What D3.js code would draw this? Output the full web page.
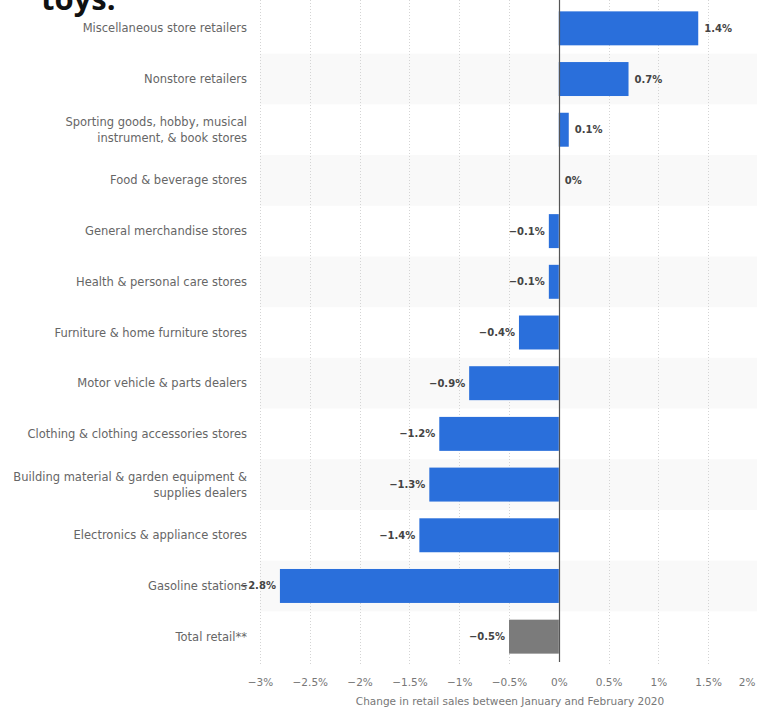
<!DOCTYPE html>
<html lang="en">
<head>
  <meta charset="UTF-8">
  <title>Change in retail sales, January to February 2020</title>
  <script src="https://d3js.org/d3.v7.min.js"></script>
  <style>
    body {
      margin: 0;
      padding: 0;
      background: #fff;
      font-family: 'DejaVu Sans', sans-serif;
    }
    .cat-label {
      font-size: 11.5px;
      fill: #666;
    }
    .val-label {
      font-size: 10px;
      font-weight: bold;
      fill: #444;
    }
    .axis text {
      font-size: 10.5px;
      fill: #777;
      font-family: 'DejaVu Sans', sans-serif;
    }
    .axis path, .axis line { display: none; }
    .axis-title {
      font-size: 10.5px;
      fill: #777;
    }
    .title-cut {
      font-family: 'Open Sans', sans-serif;
      font-size: 31px;
      font-weight: bold;
      fill: #111;
    }
  </style>
</head>
<body>
  <div id="chart"></div>
  <script>
    const categories = [
      "Miscellaneous store retailers",
      "Nonstore retailers",
      "Sporting goods, hobby, musical|instrument, & book stores",
      "Food & beverage stores",
      "General merchandise stores",
      "Health & personal care stores",
      "Furniture & home furniture stores",
      "Motor vehicle & parts dealers",
      "Clothing & clothing accessories stores",
      "Building material & garden equipment &|supplies dealers",
      "Electronics & appliance stores",
      "Gasoline stations",
      "Total retail**"
    ];
    const values = [1.4, 0.7, 0.1, 0, -0.1, -0.1, -0.4, -0.9, -1.2, -1.3, -1.4, -2.8, -0.5];
    const tickValues = [-3, -2.5, -2, -1.5, -1, -0.5, 0, 0.5, 1, 1.5, 2];
    const xTitle = "Change in retail sales between January and February 2020";

    const width = 757, height = 710;
    const blue = "#2a6fdb", grey = "#7b7b7b";

    const data = categories.map((c, i) => ({ name: c, value: values[i], total: c.startsWith("Total") }));

    const svg = d3.select("#chart").append("svg")
      .attr("width", width)
      .attr("height", height);

    const x = d3.scaleLinear().domain([-3, 2]).range([260, 758]);
    const y = d3.scaleBand()
      .domain(categories)
      .range([3, 662])
      .paddingInner(0.33)
      .paddingOuter(0.165);
    const step = y.step();
    const rowTop = d => y(d) - step * 0.165;

    // cut-off title remnant at the top
    svg.append("text")
      .attr("class", "title-cut")
      .attr("x", 41)
      .attr("y", 10)
      .text("toys.");

    // alternating row shading
    svg.selectAll(".row")
      .data(data.filter((d, i) => i % 2 === 1))
      .enter().append("rect")
      .attr("class", "row")
      .attr("x", x(-3))
      .attr("y", d => rowTop(d.name))
      .attr("width", width - x(-3))
      .attr("height", step)
      .attr("fill", "#f9f9f9");

    // dotted grid lines
    svg.selectAll(".grid")
      .data(tickValues.filter(t => t !== 0))
      .enter().append("line")
      .attr("class", "grid")
      .attr("x1", d => Math.round(x(d)) + 0.5)
      .attr("x2", d => Math.round(x(d)) + 0.5)
      .attr("y1", 0)
      .attr("y2", 664)
      .attr("stroke", "#d4d4d4")
      .attr("stroke-dasharray", "1,2");

    // bars
    svg.selectAll(".bar")
      .data(data)
      .enter().append("rect")
      .attr("class", "bar")
      .attr("x", d => x(Math.min(0, d.value)))
      .attr("y", d => y(d.name))
      .attr("width", d => Math.abs(x(d.value) - x(0)))
      .attr("height", y.bandwidth())
      .attr("fill", d => d.total ? grey : blue);

    // zero line
    svg.append("line")
      .attr("x1", Math.round(x(0)) + 0.5)
      .attr("x2", Math.round(x(0)) + 0.5)
      .attr("y1", 0)
      .attr("y2", 662)
      .attr("stroke", "#555")
      .attr("stroke-width", 1.2);

    // value labels
    svg.selectAll(".val-label")
      .data(data)
      .enter().append("text")
      .attr("class", "val-label")
      .attr("x", d => d.value >= 0 ? x(d.value) + 6 : x(d.value) - 4)
      .attr("y", d => y(d.name) + y.bandwidth() / 2)
      .attr("dy", "0.35em")
      .attr("text-anchor", d => d.value >= 0 ? "start" : "end")
      .text(d => (d.value < 0 ? "\u2212" + Math.abs(d.value) : d.value) + "%");

    // category labels
    const labels = svg.selectAll(".cat-label")
      .data(data)
      .enter().append("text")
      .attr("class", "cat-label")
      .attr("text-anchor", "end")
      .attr("y", d => y(d.name) + y.bandwidth() / 2);

    labels.each(function (d) {
      const lines = d.name.split("|");
      const t = d3.select(this);
      lines.forEach((ln, i) => {
        t.append("tspan")
          .attr("x", 247)
          .attr("dy", i === 0 ? ((0.35 - (lines.length - 1) * 0.7) + "em") : "1.4em")
          .text(ln);
      });
    });

    // x axis
    const fmt = d => (d < 0 ? "\u2212" + Math.abs(d) : d) + "%";
    const xAxis = svg.append("g")
      .attr("class", "axis")
      .attr("transform", "translate(0,676)")
      .call(d3.axisBottom(x).tickValues(tickValues).tickFormat(fmt).tickSize(0));

    // keep the last tick label inside the picture
    xAxis.selectAll(".tick").filter(d => d === 2).select("text")
      .attr("text-anchor", "end")
      .attr("dx", (width - 2) - x(2));

    svg.append("text")
      .attr("class", "axis-title")
      .attr("x", 510)
      .attr("y", 705)
      .attr("text-anchor", "middle")
      .text(xTitle);
  </script>
</body>
</html>
